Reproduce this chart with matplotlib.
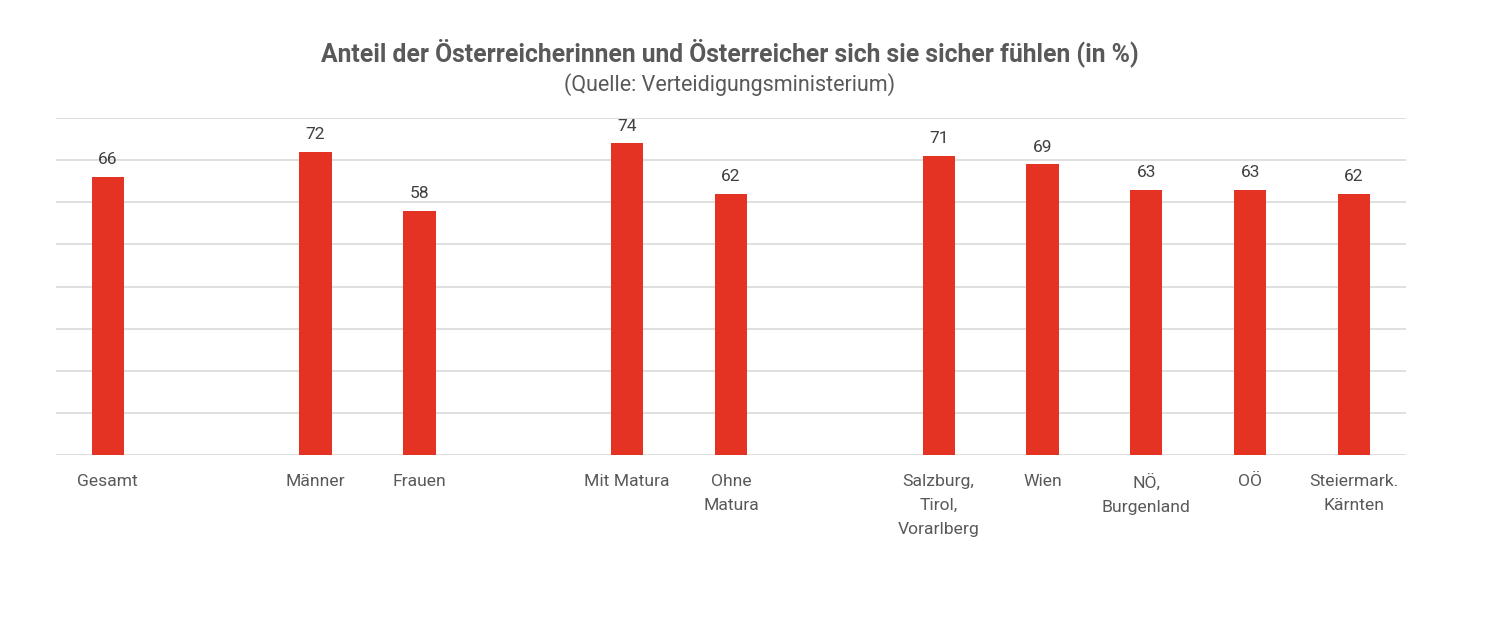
import matplotlib
matplotlib.use("Agg")
import matplotlib.pyplot as plt
import numpy as np

plt.rcParams['font.family'] = ['Roboto', 'DejaVu Sans']

# slots with empty spacers between the groups
categories = ["Gesamt", "", "Männer", "Frauen", "", "Mit Matura", "Ohne\nMatura", "",
              "Salzburg,\nTirol,\nVorarlberg", "Wien", "NÖ,\nBurgenland", "OÖ",
              "Steiermark.\nKärnten"]
values = [66, None, 72, 58, None, 74, 62, None, 71, 69, 63, 63, 62]

fig = plt.figure(figsize=(15.04, 6.38), dpi=100)
ax = fig.add_axes([0.0372, 0.2868, 0.8976, 0.5282])

x = np.arange(len(categories))
heights = [v if v is not None else 0 for v in values]
bars = ax.bar(x, heights, width=0.31, color="#E53323", zorder=3)
for xi, v in zip(x, values):
    if v is not None:
        ax.text(xi, v + 2.3, str(v), ha="center", va="bottom", fontsize=12.5, color="#404040")

ax.set_xlim(-0.5, len(categories) - 0.5)
ax.set_ylim(0, 80)
ax.set_yticks(np.arange(0, 81, 10))
ax.yaxis.grid(True, color="#d9d9d9", linewidth=1.2, zorder=0)
ax.tick_params(axis="y", left=False, labelleft=False)
ax.tick_params(axis="x", bottom=False, pad=10)
ax.set_xticks(x)
ax.set_xticklabels(categories, fontsize=12.6, color="#595959", linespacing=1.75)
for s in ax.spines.values():
    s.set_visible(False)

fig.text(0.4854, 0.918, "Anteil der Österreicherinnen und Österreicher sich sie sicher fühlen (in %)",
         ha="center", va="center", fontsize=17.8, fontweight="bold", color="#595959")
fig.text(0.4854, 0.868, "(Quelle: Verteidigungsministerium)",
         ha="center", va="center", fontsize=15.5, color="#595959")

fig.savefig("out.png", dpi=100)
